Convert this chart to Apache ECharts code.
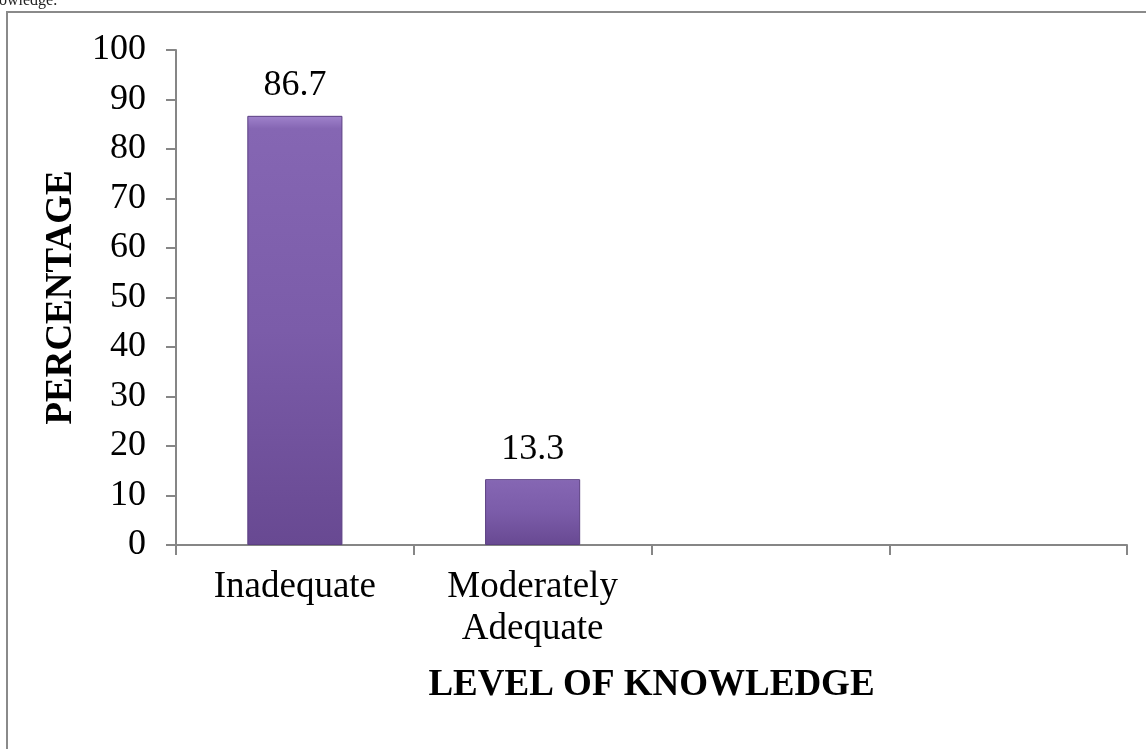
<!DOCTYPE html>
<html>
<head>
<meta charset="utf-8">
<script src="https://cdn.jsdelivr.net/npm/echarts@6/dist/echarts.min.js"></script>
<style>
html, body { margin: 0; padding: 0; background: #fff; }
#chart { width: 1146px; height: 749px; }
</style>
</head>
<body>
<div id="chart"></div>
<script>
// level of knowledge categories (last two slots are empty in the original)
const categories = ['Inadequate', 'Moderately\nAdequate', '', '']
const percentages = [86.7, 13.3, '-', '-']
const yTicks = { min: 0, max: 100, interval: 10 }

const serif = '"Liberation Serif", "DejaVu Serif", serif'
const axisGray = '#868686'

let chart = echarts.init(document.getElementById('chart'))
let option = {
    backgroundColor: '#fff',
    animation: false,
    graphic: [
        {
            // frame around the chart
            type: 'rect',
            shape: { x: 7, y: 12, width: 1300, height: 900 },
            style: { fill: 'none', stroke: '#8a8a8a', lineWidth: 2 }
        },
        {
            // cut off caption text above the frame
            type: 'text',
            x: -17,
            y: 9,
            style: {
                text: 'knowledge.',
                font: '16px ' + serif,
                fill: '#222',
                verticalAlign: 'bottom'
            }
        }
    ],
    grid: {
        left: 176,
        right: 19,
        top: 50,
        bottom: 204,
        containLabel: false
    },
    xAxis: {
        type: 'category',
        data: categories,
        name: 'LEVEL OF KNOWLEDGE',
        nameLocation: 'middle',
        nameGap: 122,
        nameTextStyle: {
            fontFamily: serif,
            fontWeight: 'bold',
            fontSize: 37,
            color: '#000'
        },
        axisLine: { lineStyle: { color: axisGray, width: 2 } },
        axisTick: { show: true, interval: 0, length: 10, lineStyle: { color: axisGray, width: 2 } },
        axisLabel: {
            interval: 0,
            margin: 21,
            fontFamily: serif,
            fontSize: 37,
            lineHeight: 42,
            color: '#000'
        },
        splitLine: { show: false }
    },
    yAxis: {
        type: 'value',
        min: yTicks.min,
        max: yTicks.max,
        interval: yTicks.interval,
        name: 'PERCENTAGE',
        nameLocation: 'middle',
        nameGap: 96,
        nameTextStyle: {
            fontFamily: serif,
            fontWeight: 'bold',
            fontSize: 37,
            color: '#000'
        },
        axisLine: { show: true, lineStyle: { color: axisGray, width: 2 } },
        axisTick: { show: true, length: 10, lineStyle: { color: axisGray, width: 2 } },
        axisLabel: {
            margin: 30,
            fontFamily: serif,
            fontSize: 36,
            color: '#000'
        },
        splitLine: { show: false }
    },
    series: [
        {
            type: 'bar',
            data: percentages,
            barWidth: '40%',
            itemStyle: {
                color: new echarts.graphic.LinearGradient(0, 0, 0, 1, [
                    { offset: 0, color: '#a083cc' },
                    { offset: 0.03, color: '#8566b3' },
                    { offset: 0.5, color: '#7b5ca9' },
                    { offset: 1, color: '#684992' }
                ]),
                borderColor: '#5b3f82',
                borderWidth: 1
            },
            label: {
                show: true,
                position: 'top',
                distance: 12,
                fontFamily: serif,
                fontSize: 36,
                color: '#000'
            }
        }
    ]
}
chart.setOption(option)
window.addEventListener('resize', () => {
    chart.resize()
})
</script>
</body>
</html>
